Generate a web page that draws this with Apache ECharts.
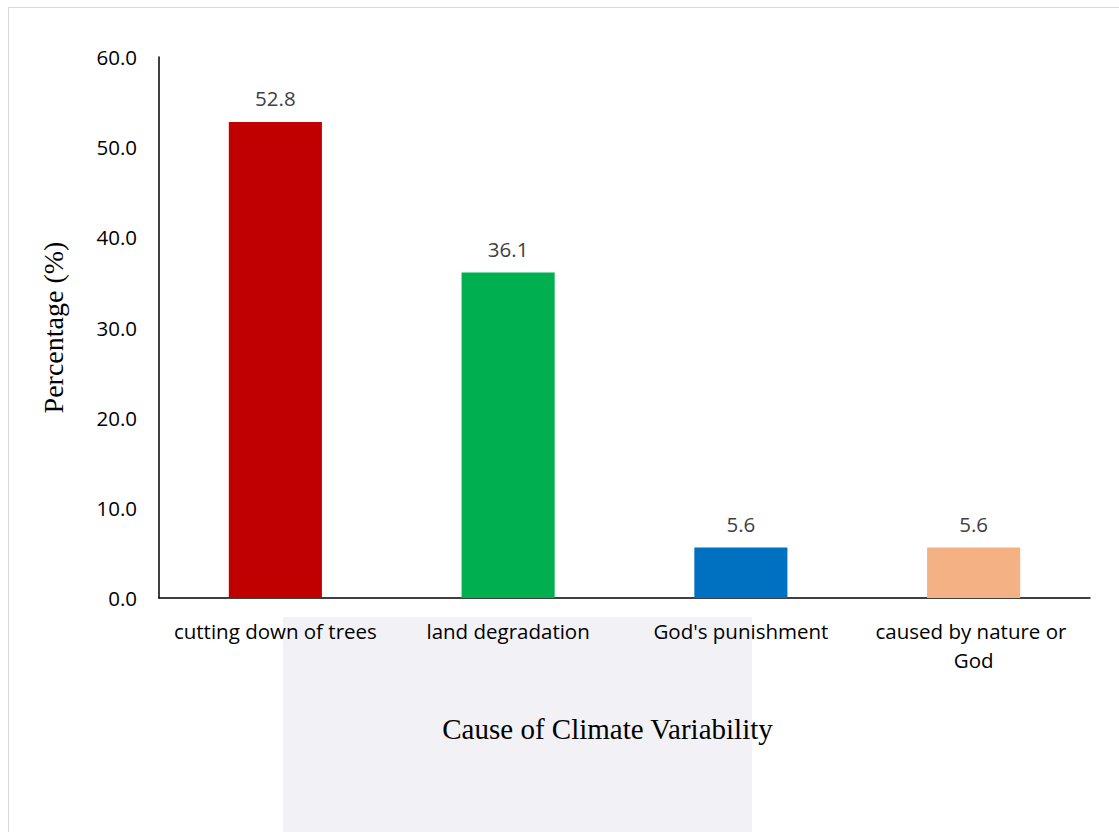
<!DOCTYPE html>
<html>
<head>
<meta charset="utf-8">
<style>
  html, body { margin: 0; padding: 0; background: #fff; }
  #frame { position: absolute; left: 8px; top: 7px; width: 1120px; height: 840px;
           border: 1px solid #d9d9d9; box-sizing: border-box; }
  #chart { position: absolute; left: 0; top: 0; width: 1119px; height: 832px; }
</style>
<script src="https://cdn.jsdelivr.net/npm/echarts@6.0.0/dist/echarts.min.js"></script>
</head>
<body>
<div id="frame"></div>
<div id="chart"></div>
<script>
"use strict";

const causes = ["cutting down of trees", "land degradation", "God's punishment", "caused by nature or God"];
const percentages = [52.8, 36.1, 5.6, 5.6];
const barColors = ["#c00000", "#00b050", "#0070c0", "#f4b183"];

const SANS = "'Open Sans', 'Noto Sans', sans-serif";
const SERIF = "'Liberation Serif', 'DejaVu Serif', serif";

const chart = echarts.init(document.getElementById("chart"), null, { renderer: "svg" });

chart.setOption({
  animation: false,
  backgroundColor: "transparent",
  // faint watermark block behind the category labels
  graphic: [{
    type: "rect", z: -1, silent: true,
    shape: { x: 283, y: 617, width: 469, height: 215 },
    style: { fill: "#f2f1f6" },
  }],
  grid: { left: 159, right: 29, top: 57, bottom: 234, containLabel: false },
  xAxis: {
    type: "category",
    data: causes,
    name: "Cause of Climate Variability",
    nameLocation: "middle",
    nameGap: 116,
    nameTextStyle: { fontFamily: SERIF, fontSize: 29, color: "#000", padding: [0, 34, 0, 0] },
    axisLine: { lineStyle: { color: "#000", width: 1.5 } },
    axisTick: { show: false },
    axisLabel: {
      fontFamily: SANS, fontSize: 20.5, color: "#000", margin: 18,
      width: 225, overflow: "break", lineHeight: 29, interval: 0,
    },
  },
  yAxis: {
    type: "value",
    min: 0, max: 60, interval: 10,
    name: "Percentage (%)",
    nameLocation: "middle",
    nameGap: 92,
    nameTextStyle: { fontFamily: SERIF, fontSize: 28, color: "#000" },
    axisLine: { show: true, lineStyle: { color: "#000", width: 1.5 } },
    axisTick: { show: false },
    splitLine: { show: false },
    axisLabel: {
      fontFamily: SANS, fontSize: 20.5, color: "#000", margin: 22,
      formatter: (v) => v.toFixed(1),
    },
  },
  series: [{
    type: "bar",
    barWidth: "40%",
    data: percentages.map((v, i) => ({ value: v, itemStyle: { color: barColors[i] } })),
    label: {
      show: true, position: "top", distance: 13,
      fontFamily: SANS, fontSize: 20.5, color: "#404040",
      formatter: (p) => p.value.toFixed(1),
    },
  }],
});
</script>
</body>
</html>
